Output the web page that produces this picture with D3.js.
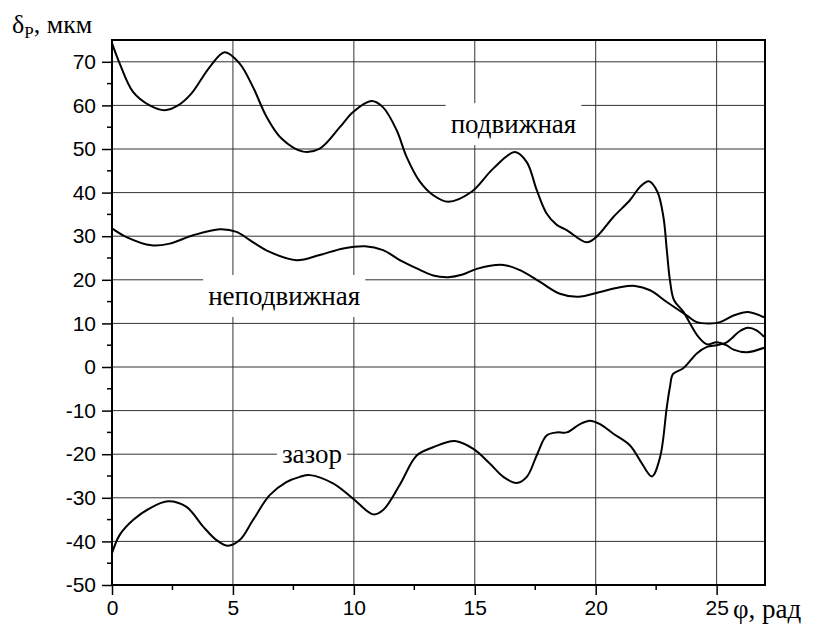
<!DOCTYPE html>
<html>
<head>
<meta charset="utf-8">
<script src="https://cdn.jsdelivr.net/npm/d3@7"></script>
<style>
  body { margin: 0; background: #fff; }
  svg { display: block; }
</style>
</head>
<body>
<svg id="chart" width="814" height="626"></svg>
<script>
// кривая "подвижная"
const podvPhi = [0, 0.32, 0.87, 1.56, 2.18, 2.73, 3.28, 4.04, 4.66, 5.28, 5.83, 6.39, 7.01, 7.9, 8.59,
  9.42, 9.97, 10.73, 11.2, 11.77, 12.18, 12.73, 13.28, 13.9, 14.87, 15.76, 16.66, 17.15, 17.56, 17.97,
  18.39, 18.8, 19.63, 20.04, 20.73, 21.42, 21.83, 22.2, 22.55, 22.8, 22.94, 23.07, 23.24, 23.62, 23.9,
  24.25, 24.6, 25.0, 25.4, 25.7, 26.25, 26.96];
const podvVal = [74.3, 69.6, 63.1, 60.0, 58.9, 60.0, 62.7, 68.8, 72.2, 69.6, 64.2, 57.4, 52.4, 49.4, 50.1,
  55.0, 58.5, 61.0, 59.6, 54.3, 48.2, 42.5, 39.4, 37.9, 40.2, 45.5, 49.3, 47.0, 40.6, 35.2,
  32.6, 31.4, 28.6, 29.9, 34.4, 38.3, 41.3, 42.6, 40.2, 34.4, 26.8, 19.9, 15.3, 12.7, 10.0,
  6.9, 5.2, 5.7, 5.0, 4.0, 3.4, 4.4];

// кривая "неподвижная"
const nepodvPhi = [0, 0.6, 1.63, 2.39, 3.35, 4.46, 5.15, 5.7, 6.52, 7.63, 8.59, 9.56, 10.46, 11.21, 11.9,
  12.6, 13.28, 13.9, 14.5, 15.08, 16.18, 16.87, 17.7, 18.52, 19.28, 20.18, 21.0, 21.63, 22.25, 22.94,
  23.77, 24.18, 24.73, 25.14, 25.7, 26.3, 26.96];
const nepodvVal = [31.8, 29.8, 27.9, 28.3, 30.2, 31.6, 31.0, 29.1, 26.4, 24.5, 25.7, 27.2, 27.7, 26.8, 24.5,
  22.6, 21.0, 20.6, 21.2, 22.5, 23.4, 22.2, 19.5, 16.8, 16.1, 17.2, 18.3, 18.6, 17.6, 14.9,
  11.8, 10.3, 10.0, 10.3, 11.8, 12.6, 11.4];

// кривая "зазор"
const zazorPhi = [0, 0.32, 0.87, 1.56, 2.32, 3.08, 3.77, 4.32, 4.8, 5.28, 5.83, 6.52, 7.21, 7.77, 8.18,
  9.14, 9.97, 10.8, 11.21, 11.9, 12.6, 13.28, 14.18, 14.94, 15.63, 16.18, 16.73, 17.15, 17.56, 17.97,
  18.39, 18.8, 19.35, 19.76, 20.18, 20.73, 21.42, 21.83, 22.32, 22.66, 22.94, 23.07, 23.2, 23.62, 24.18,
  24.6, 25.0, 25.4, 25.63, 25.95, 26.3, 26.65, 26.96];
const zazorVal = [-42.7, -38.5, -35.1, -32.4, -30.8, -32.1, -36.6, -39.7, -41.0, -39.7, -35.1, -29.4, -26.4, -25.2, -24.8,
  -26.7, -30.2, -33.8, -32.8, -27.0, -20.3, -18.4, -17.0, -18.8, -22.2, -25.2, -26.6, -25.2, -20.3, -15.7,
  -15.0, -15.0, -13.1, -12.3, -13.1, -15.3, -18.0, -21.4, -25.1, -20.7, -9.2, -4.6, -1.6, -0.3, 3.1,
  4.6, 5.0, 5.6, 6.6, 8.2, 9.0, 8.4, 6.9];

const xTicks = [0, 5, 10, 15, 20, 25];
const yTicks = [-50, -40, -30, -20, -10, 0, 10, 20, 30, 40, 50, 60, 70];

// подписи кривых: текст и положение центра (phi, значение)
const labelText = ['подвижная', 'неподвижная', 'зазор'];
const labelPhi = [16.6, 7.12, 8.27];
const labelVal = [55.7, 16.3, -20];

const width = 814;
const height = 626;
const margin = { top: 40, right: 49, bottom: 41, left: 112 };

const serif = "'Liberation Serif', 'Times New Roman', serif";
const sans = "'Liberation Sans', Arial, sans-serif";

const svg = d3.select('#chart');

const x = d3.scaleLinear()
  .domain([0, 27])
  .range([margin.left, width - margin.right]);

const y = d3.scaleLinear()
  .domain([-50, 75])
  .range([height - margin.bottom, margin.top]);

// сетка
svg.append('g')
  .attr('stroke', '#333')
  .attr('stroke-width', 1)
  .call((g) => g.selectAll('.vgrid')
    .data(xTicks.filter((d) => d > 0))
    .join('line')
    .attr('x1', (d) => x(d)).attr('x2', (d) => x(d))
    .attr('y1', y(75)).attr('y2', y(-50)))
  .call((g) => g.selectAll('.hgrid')
    .data(yTicks.filter((d) => d > -50))
    .join('line')
    .attr('x1', x(0)).attr('x2', x(27))
    .attr('y1', (d) => y(d)).attr('y2', (d) => y(d)));

// белые подложки под подписями
const labels = svg.append('g');
labelText.forEach((t, i) => {
  const g = labels.append('g');
  const txt = g.append('text')
    .style('font-family', serif)
    .style('font-size', '27px')
    .attr('x', x(labelPhi[i]))
    .attr('y', y(labelVal[i]) + 9)
    .attr('text-anchor', 'middle')
    .attr('fill', '#000')
    .text(t);
  const bb = txt.node().getBBox();
  g.insert('rect', 'text')
    .attr('x', bb.x - 5)
    .attr('y', y(labelVal[i]) - 21)
    .attr('width', bb.width + 10)
    .attr('height', 42)
    .attr('fill', '#fff');
});

// кривые
const line = d3.line()
  .x((d) => x(d[0]))
  .y((d) => y(d[1]))
  .curve(d3.curveCatmullRom.alpha(0.5));

const series = [
  d3.zip(podvPhi, podvVal),
  d3.zip(nepodvPhi, nepodvVal),
  d3.zip(zazorPhi, zazorVal)
];

svg.append('g')
  .selectAll('path')
  .data(series)
  .join('path')
  .attr('fill', 'none')
  .attr('stroke', '#000')
  .attr('stroke-width', 2)
  .attr('stroke-linejoin', 'round')
  .attr('d', line);

// оси
const yAxis = (g) =>
  g
    .attr('transform', `translate(${margin.left},0)`)
    .call(d3.axisLeft(y).tickValues(yTicks).tickSize(10).tickPadding(6).tickFormat((d) => String(d)))
    .call((g) => g.select('.domain').remove())
    .call((g) => g.selectAll('.tick line').attr('stroke-width', 1.5))
    .call((g) => g.selectAll('.tick text')
      .style('font-family', sans)
      .style('font-size', '21px')
      .attr('fill', '#000'));

const xAxis = (g) =>
  g
    .attr('transform', `translate(0,${height - margin.bottom})`)
    .call(d3.axisBottom(x).tickValues(xTicks).tickSize(10).tickPadding(5).tickFormat((d) => String(d)))
    .call((g) => g.select('.domain').remove())
    .call((g) => g.selectAll('.tick line').attr('stroke-width', 1.5))
    .call((g) => g.selectAll('.tick text')
      .style('font-family', sans)
      .style('font-size', '21px')
      .attr('fill', '#000'));

svg.append('g').call(yAxis);
svg.append('g').call(xAxis);

// малые деления
svg.append('g')
  .attr('stroke', '#000')
  .attr('stroke-width', 1.5)
  .call((g) => g.selectAll('.ym')
    .data(d3.range(-45, 75, 10))
    .join('line')
    .attr('x1', x(0) - 5).attr('x2', x(0))
    .attr('y1', (d) => y(d)).attr('y2', (d) => y(d)))
  .call((g) => g.selectAll('.xm')
    .data(d3.range(2.5, 27, 5))
    .join('line')
    .attr('x1', (d) => x(d)).attr('x2', (d) => x(d))
    .attr('y1', y(-50)).attr('y2', y(-50) + 5));

// рамка
svg.append('rect')
  .attr('x', x(0))
  .attr('y', y(75))
  .attr('width', x(27) - x(0))
  .attr('height', y(-50) - y(75))
  .attr('fill', 'none')
  .attr('stroke', '#000')
  .attr('stroke-width', 2);

// подписи осей
const yTitle = svg.append('text')
  .style('font-family', serif)
  .style('font-size', '26px')
  .attr('x', 12)
  .attr('y', 33)
  .attr('fill', '#000');
yTitle.append('tspan').text('δ');
yTitle.append('tspan').style('font-size', '17px').attr('dy', 5).text('P');
yTitle.append('tspan').attr('dy', -5).text(', мкм');

svg.append('text')
  .style('font-family', serif)
  .style('font-size', '27px')
  .attr('x', 733)
  .attr('y', 618)
  .attr('fill', '#000')
  .text('φ, рад');
</script>
</body>
</html>
